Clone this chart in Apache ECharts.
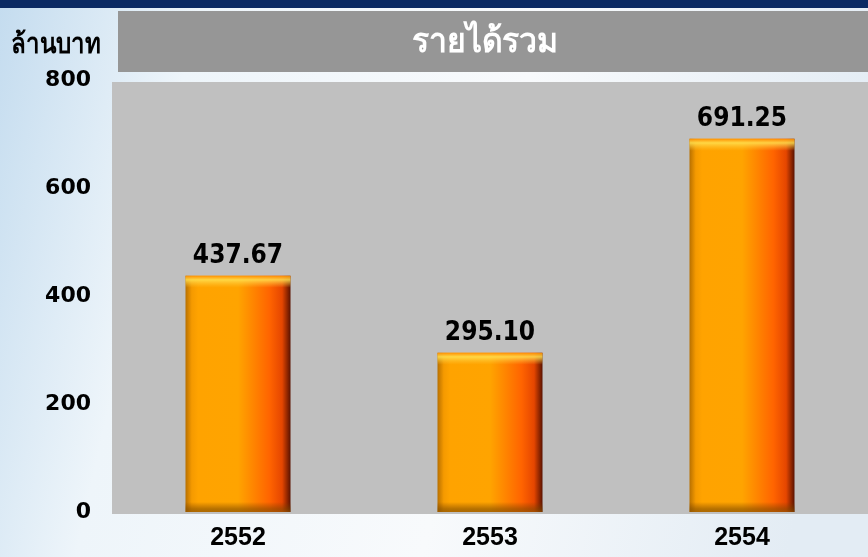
<!DOCTYPE html>
<html>
<head>
<meta charset="utf-8">
<script src="https://cdn.jsdelivr.net/npm/echarts@6/dist/echarts.min.js"></script>
<style>
  html, body { margin: 0; padding: 0; }
  #chart { width: 868px; height: 557px; }
</style>
</head>
<body>
<div id="chart"></div>
<script>
// data
const years = ['2552', '2553', '2554'];
const revenue = [437.67, 295.10, 691.25];
const yTicks = [0, 200, 400, 600, 800];

const chart = echarts.init(document.getElementById('chart'));

const gridTop = 80;
const gridBottom = 45;
const pxPerUnit = (557 - gridTop - gridBottom) / yTicks[yTicks.length - 1];

// orange bar body, dark right edge
const barFill = new echarts.graphic.LinearGradient(0, 0, 1, 0, [
  { offset: 0, color: '#b87000' },
  { offset: 0.06, color: '#f59a00' },
  { offset: 0.12, color: '#ffa300' },
  { offset: 0.5, color: '#ffa400' },
  { offset: 0.8, color: '#ff6400' },
  { offset: 0.92, color: '#e54600' },
  { offset: 1, color: '#5a1200' }
]);

// top highlight and bottom shade bevel, drawn over the bar body
function bevel(v) {
  const h = v * pxPerUnit;
  const t = 12 / h, b = 10 / h;
  return new echarts.graphic.LinearGradient(0, 0, 0, 1, [
    { offset: 0, color: 'rgba(255,140,0,0.9)' },
    { offset: t * 0.35, color: 'rgba(255,225,80,0.85)' },
    { offset: t, color: 'rgba(255,200,60,0)' },
    { offset: 1 - b, color: 'rgba(120,60,0,0)' },
    { offset: 1 - b * 0.3, color: 'rgba(120,70,0,0.55)' },
    { offset: 1, color: 'rgba(140,80,0,0.7)' }
  ]);
}

const labelFont = { color: '#000', fontWeight: 'bold' };

const option = {
  backgroundColor: new echarts.graphic.LinearGradient(0, 0, 1, 0.35, [
    { offset: 0, color: '#c4dcef' },
    { offset: 0.22, color: '#eef5fa' },
    { offset: 0.6, color: '#f8fafc' },
    { offset: 1, color: '#e3ecf4' }
  ]),
  animation: false,
  graphic: [
    { type: 'rect', z: -10, shape: { x: 0, y: 0, width: 868, height: 8 }, style: { fill: '#0b2a63' } },
    { type: 'rect', z: -10, shape: { x: 118, y: 11, width: 750, height: 61 }, style: { fill: '#969696' } },
    { type: 'rect', z: -10, shape: { x: 112, y: 82, width: 756, height: 432 }, style: { fill: '#c0c0c0' } },
    {
      type: 'text', x: 485, y: 42, scaleX: 0.94,
      style: {
        x: 0, y: 0, text: 'รายได้รวม', fill: '#ffffff',
        textAlign: 'center', textVerticalAlign: 'middle',
        font: 'bold 34px "Noto Sans", sans-serif'
      }
    },
    {
      type: 'text', x: 56, y: 45, scaleX: 0.86,
      style: {
        x: 0, y: 0, text: 'ล้านบาท', fill: '#000000',
        textAlign: 'center', textVerticalAlign: 'middle',
        font: 'bold 28px "Noto Sans", sans-serif'
      }
    }
  ],
  grid: { left: 112, right: 0, top: gridTop, bottom: gridBottom },
  xAxis: {
    type: 'category',
    data: years,
    axisLine: { show: false },
    axisTick: { show: false },
    axisLabel: { ...labelFont, fontSize: 25, fontFamily: '"Liberation Sans", Arial, sans-serif', margin: 14 }
  },
  yAxis: {
    type: 'value',
    min: yTicks[0],
    max: yTicks[yTicks.length - 1],
    interval: 200,
    splitLine: { show: false },
    axisLine: { show: false },
    axisTick: { show: false },
    axisLabel: { ...labelFont, fontSize: 22, fontFamily: '"DejaVu Sans", sans-serif', margin: 21 }
  },
  series: [
    {
      type: 'bar',
      data: revenue,
      barWidth: 105,
      itemStyle: { color: barFill },
      label: {
        show: true,
        position: 'top',
        distance: 6,
        formatter: p => p.value.toFixed(2),
        ...labelFont,
        fontSize: 26,
        fontFamily: '"DejaVu Sans Condensed", "DejaVu Sans", sans-serif'
      }
    },
    {
      type: 'bar',
      silent: true,
      barWidth: 105,
      barGap: '-100%',
      data: revenue.map(v => ({ value: v, itemStyle: { color: bevel(v) } }))
    }
  ]
};

chart.setOption(option);
</script>
</body>
</html>
